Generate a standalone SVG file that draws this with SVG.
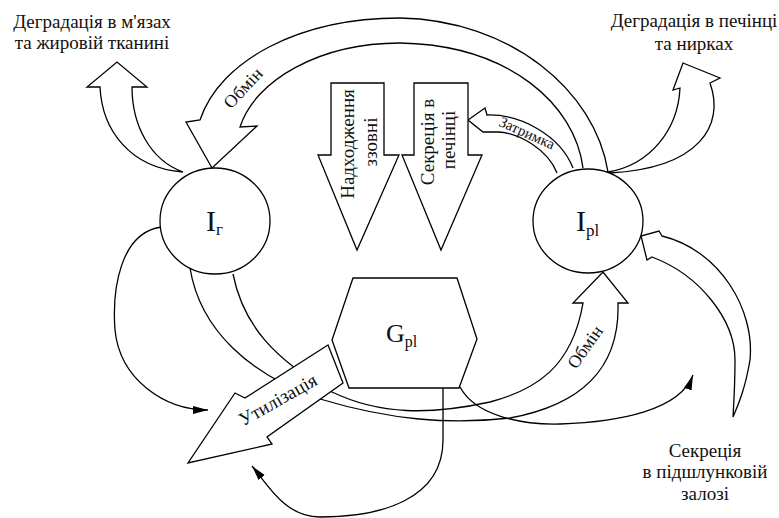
<svg xmlns="http://www.w3.org/2000/svg" width="779" height="518" viewBox="0 0 779 518">
<defs>
<marker id="ah" markerUnits="userSpaceOnUse" markerWidth="16" markerHeight="10" refX="15" refY="4" orient="auto"><path d="M0,0 L15,4 L0,8 Z" fill="#000"/></marker>
<style>
.ln{fill:none;stroke:#000;stroke-width:1.3;stroke-linejoin:miter}
.blk{fill:#fff;stroke:#000;stroke-width:1.3;stroke-linejoin:miter}
.t{font-family:"Liberation Serif","Times New Roman",serif;fill:#111}
</style>
</defs>
<rect width="779" height="518" fill="#fff"/>
<g id="connectors">
  <!-- top exchange Ipl -> Ir -->
  <path class="blk" d="M608,172 C595,90 510,20 400,18 C300,18 220,60 200,120 L186,122 L212,168 L257,126 L240,127 C255,80 320,43 400,43 C510,45 575,105 583,168"/>
  <g transform="translate(243,88) rotate(-47)"><text class="t" font-size="18" text-anchor="middle" y="6">Обмін</text></g>
  <!-- delay -->
  <path class="blk" d="M573,168 C560,135 520,114 487,115 L485,108 L468,120 L483,132 L498,132 C520,133 548,150 557,173"/>
  <g transform="translate(527,133) rotate(24)"><text class="t" font-size="15" text-anchor="middle" y="5">Затримка</text></g>
  <!-- degradation muscles -->
  <path class="blk" d="M183,172 C130,168 102,130 100,87 L87,87 L117,62 L147,87 L132,87 C132,125 150,160 183,172 Z"/>
  <!-- degradation liver -->
  <path class="blk" d="M608,172 C650,165 678,130 680,88 L673,90 L683,63 L720,78 L710,83 C725,125 700,168 610,173 Z"/>
  <!-- pancreas secretion -->
  <path class="blk" d="M733,417 C734,400 735,385 735,360 C735,320 700,275 652,257 L647,260 L641,236 L659,231 L662,236 C720,250 755,310 750,360 C745,390 738,405 733,417 Z"/>
  <!-- external intake -->
  <polygon class="blk" points="331,83 384,83 384,155 399,155 357,250 318,155 331,155"/>
  <g transform="translate(354,144) rotate(-90)"><text class="t" font-size="19" text-anchor="middle">Надходження</text></g>
  <g transform="translate(377,142) rotate(-90)"><text class="t" font-size="19" text-anchor="middle">ззовні</text></g>
  <!-- liver secretion -->
  <polygon class="blk" points="414,83 468,83 468,155 482,155 441,250 402,155 414,155"/>
  <g transform="translate(434,142) rotate(-90)"><text class="t" font-size="19" text-anchor="middle">Секреція в</text></g>
  <g transform="translate(455,140) rotate(-90)"><text class="t" font-size="19" text-anchor="middle">печінці</text></g>
  <!-- thin arrows -->
  <path class="ln" marker-end="url(#ah)" d="M162,227 C120,232 112,290 115,330 C120,380 165,410 208,410"/>
  <path class="ln" marker-end="url(#ah)" d="M443,388 L443,440 C443,500 380,517 320,517 C285,517 268,485 252,466"/>
  <path class="ln" marker-end="url(#ah)" d="M460,387 C475,415 520,425 560,424 C620,422 680,410 693,375"/>
  <!-- bottom exchange Ir -> Ipl -->
  <path class="ln" d="M233,274 C243,325 275,360 332,392 C380,415 430,415 490,402 C535,390 572,368 583,303 L573,303 L603,272 L628,303 L618,303 C620,370 580,405 510,418 C450,425 390,420 320,399 C250,375 200,330 190,268"/>
  <g transform="translate(585,347) rotate(-55)"><text class="t" font-size="18" text-anchor="middle" y="6">Обмін</text></g>
  <!-- utilization -->
  <polygon class="blk" points="328,345 245,398 235,393 188,463 272,444 267,437 343,383"/>
  <g transform="translate(278,400) rotate(-29.5)"><text class="t" font-size="19" text-anchor="middle" y="6">Утилізація</text></g>
</g>
<g id="node-Ir">
  <ellipse class="blk" cx="215" cy="221" rx="55" ry="53"/>
  <text class="t" font-size="30" x="206" y="231">I<tspan font-size="17" dy="4">г</tspan></text>
</g>
<g id="node-Ipl">
  <ellipse class="blk" cx="588" cy="221" rx="55" ry="52"/>
  <text class="t" font-size="30" x="576" y="231">I<tspan font-size="17" dy="5">pl</tspan></text>
</g>
<g id="node-Gpl">
  <polygon class="blk" points="353,278 457,278 477,339 459,388 349,388 332,340"/>
  <text class="t" font-size="26" x="386" y="342">G<tspan font-size="16" dy="5">pl</tspan></text>
</g>
<g id="label-muscle">
  <text class="t" font-size="19" text-anchor="middle"><tspan x="92" y="28">Деградація в м'язах</tspan><tspan x="92" y="49">та жировій тканині</tspan></text>
</g>
<g id="label-liver">
  <text class="t" font-size="19" text-anchor="middle"><tspan x="694" y="27">Деградація в печінці</tspan><tspan x="694" y="50">та нирках</tspan></text>
</g>
<g id="label-pancreas">
  <text class="t" font-size="19" text-anchor="middle"><tspan x="705" y="457">Секреція</tspan><tspan x="705" y="478">в підшлунковій</tspan><tspan x="705" y="500">залозі</tspan></text>
</g>
</svg>
